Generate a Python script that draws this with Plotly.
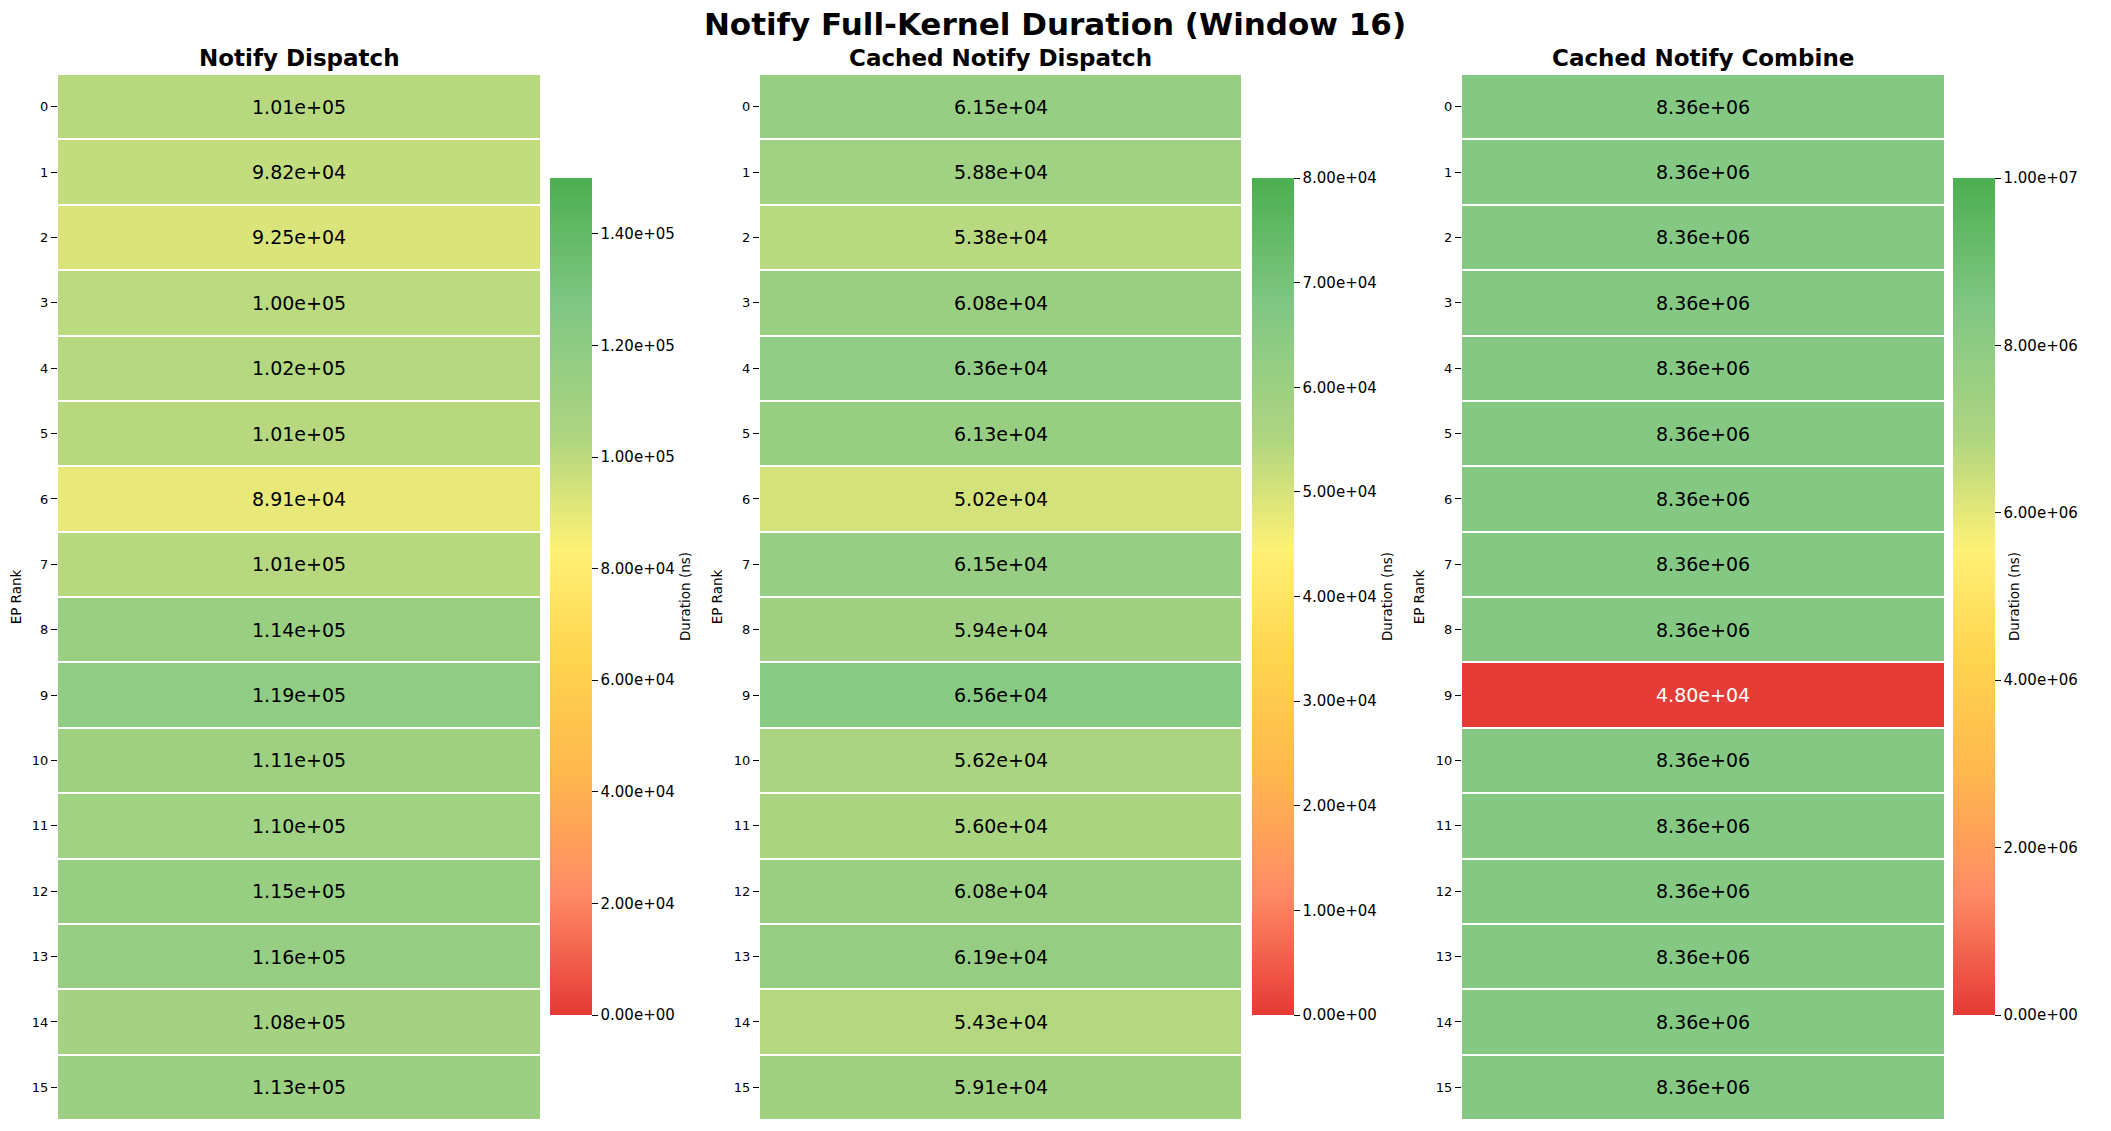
import plotly.graph_objs as go

ranks = list(range(16))

notify_dispatch = [1.01e5, 9.82e4, 9.25e4, 1.00e5, 1.02e5, 1.01e5, 8.91e4, 1.01e5,
                   1.14e5, 1.19e5, 1.11e5, 1.10e5, 1.15e5, 1.16e5, 1.08e5, 1.13e5]
cached_dispatch = [6.15e4, 5.88e4, 5.38e4, 6.08e4, 6.36e4, 6.13e4, 5.02e4, 6.15e4,
                   5.94e4, 6.56e4, 5.62e4, 5.60e4, 6.08e4, 6.19e4, 5.43e4, 5.91e4]
cached_combine = [8.36e6, 8.36e6, 8.36e6, 8.36e6, 8.36e6, 8.36e6, 8.36e6, 8.36e6,
                  8.36e6, 4.80e4, 8.36e6, 8.36e6, 8.36e6, 8.36e6, 8.36e6, 8.36e6]

titles = ["Notify Dispatch", "Cached Notify Dispatch", "Cached Notify Combine"]
vmaxes = [1.5e5, 8e4, 1e7]
tick_steps = [2e4, 1e4, 2e6]

colors = ['#e53935', '#ff8a65', '#ffb74d', '#ffd54f', '#fff176', '#aed581', '#81c784', '#4caf50']
stops = [0, 0.143, 0.286, 0.43, 0.555, 0.69, 0.845, 1]
colorscale = [[s, c] for s, c in zip(stops, colors)]


def hex_rgb(h):
    return tuple(int(h[i:i + 2], 16) for i in (1, 3, 5))


def cell_color(frac):
    frac = min(max(frac, 0), 1)
    i = 0
    while i < len(stops) - 2 and frac > stops[i + 1]:
        i += 1
    t = (frac - stops[i]) / (stops[i + 1] - stops[i])
    a, b = hex_rgb(colors[i]), hex_rgb(colors[i + 1])
    return [a[k] + (b[k] - a[k]) * t for k in range(3)]


def luminance(rgb):
    out = []
    for c in rgb:
        c = c / 255
        out.append(c / 12.92 if c <= 0.03928 else ((c + 0.055) / 1.055) ** 2.4)
    return 0.2126 * out[0] + 0.7152 * out[1] + 0.0722 * out[2]


W, H = 2111, 1131
OFF = 8  # page margin of the html body


def fx(px):
    return (px - OFF) / W


def fy(py):
    return 1 - (py - OFF) / H


x_dom = [(58, 540), (760, 1241), (1462, 1944)]
cb_x = [550, 1252, 1953]
y_dom = [fy(1120), fy(74)]

fig = go.Figure()
annotations = []
series = [notify_dispatch, cached_dispatch, cached_combine]

for k, vals in enumerate(series):
    n = k + 1
    xa = "x" if n == 1 else f"x{n}"
    ya = "y" if n == 1 else f"y{n}"
    vmax = vmaxes[k]
    tv = []
    v = 0.0
    while v <= vmax + 1e-9:
        tv.append(v)
        v += tick_steps[k]
    fig.add_trace(go.Heatmap(
        z=[[v] for v in vals], x=[0], y=ranks,
        zmin=0, zmax=vmax, colorscale=colorscale, ygap=2,
        xaxis=xa, yaxis=ya, hoverinfo="skip",
        colorbar=dict(
            x=fx(cb_x[k]), xanchor="left", xpad=0, ypad=0,
            y=fy(596.5), yanchor="middle", len=837 / H, lenmode="fraction",
            thickness=42, thicknessmode="pixels", outlinewidth=0,
            tickvals=tv, ticktext=[f"{t:.2e}" for t in tv],
            ticks="outside", ticklen=6, tickcolor="black",
            tickfont=dict(size=15, color="black"),
            title=dict(text="Duration (ns)", side="right", font=dict(size=13.5, color="black")),
        ),
    ))
    for r, v in zip(ranks, vals):
        lum = luminance(cell_color(v / vmax))
        annotations.append(dict(
            x=0, y=r, xref=xa, yref=ya, text=f"{v:.2e}", showarrow=False,
            font=dict(size=19, color="black" if lum > 0.408 else "white"),
        ))
    fig.update_layout({
        ("xaxis" if n == 1 else f"xaxis{n}"): dict(
            domain=[fx(x_dom[k][0]), fx(x_dom[k][1])], anchor=ya,
            showticklabels=False, showgrid=False, zeroline=False, ticks="",
            range=[-0.5, 0.5]),
        ("yaxis" if n == 1 else f"yaxis{n}"): dict(
            domain=y_dom, anchor=xa, autorange="reversed",
            tickvals=ranks, ticktext=[str(r) for r in ranks],
            ticks="outside", ticklen=6, tickcolor="black",
            tickfont=dict(size=13, color="black"),
            showgrid=False, zeroline=False,
            title=dict(text="EP Rank", font=dict(size=13.5, color="black"), standoff=8)),
    })
    annotations.append(dict(
        x=fx((x_dom[k][0] + x_dom[k][1]) / 2), y=fy(73),
        xref="paper", yref="paper", text=f"<b>{titles[k]}</b>", showarrow=False,
        xanchor="center", yanchor="bottom", font=dict(size=23, color="black"),
    ))

fig.update_layout(
    width=W, height=H,
    margin=dict(l=0, r=0, t=0, b=0),
    paper_bgcolor="white", plot_bgcolor="white",
    font=dict(family="DejaVu Sans", color="black"),
    title=dict(text="<b>Notify Full-Kernel Duration (Window 16)</b>",
               x=fx(1055), xanchor="center", y=fy(24), yanchor="middle",
               font=dict(size=31, color="black")),
    annotations=annotations,
)

fig.write_html("out.html")
